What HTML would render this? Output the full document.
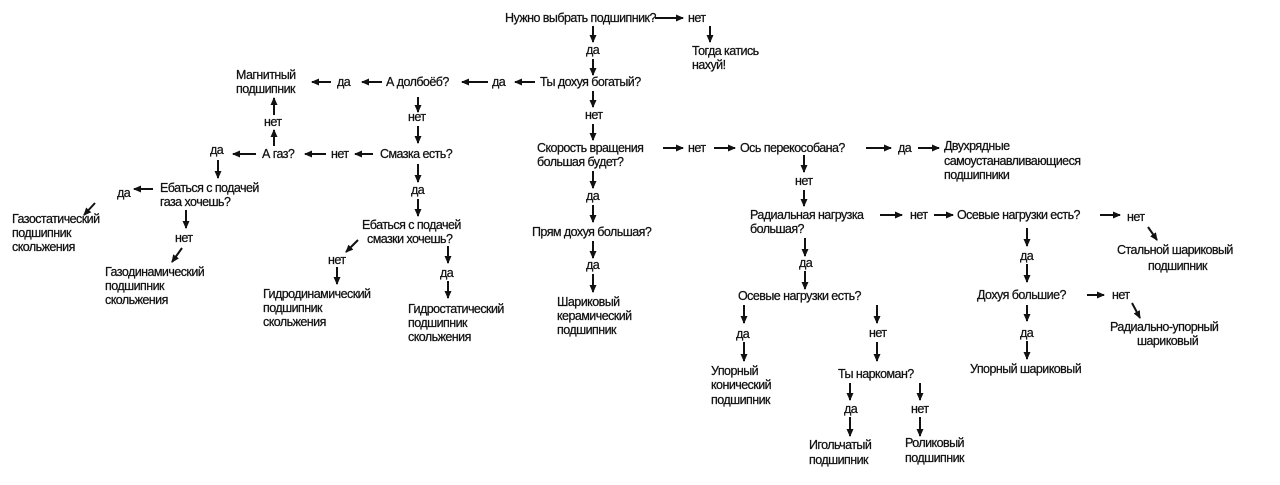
<!DOCTYPE html>
<html><head><meta charset="utf-8"><style>
html,body{margin:0;padding:0;background:#fff;}
svg{display:block;}
text{font-family:"Liberation Sans",Arial,sans-serif;font-size:12.5px;letter-spacing:-0.55px;fill:#111;stroke:#111;stroke-width:0.25px;}
line{stroke:#111;stroke-width:2;marker-end:url(#a);}
</style></head><body>
<svg width="1280" height="485" viewBox="0 0 1280 485" xmlns="http://www.w3.org/2000/svg">
<defs><marker id="a" markerWidth="8" markerHeight="7" refX="7" refY="3.5" orient="auto" markerUnits="userSpaceOnUse"><path d="M0,0 L8,3.5 L0,7 z" fill="#111"/></marker></defs>

<!-- top -->
<text x="505" y="22">Нужно выбрать подшипник?</text>
<line x1="655" y1="18" x2="683" y2="18"/>
<text x="688" y="22">нет</text>
<line x1="710" y1="26" x2="710" y2="42"/>
<text x="692" y="55">Тогда катись</text>
<text x="692" y="69">нахуй!</text>
<line x1="593" y1="26" x2="593" y2="42"/>
<text x="586" y="54">да</text>
<line x1="593" y1="59" x2="593" y2="75"/>
<text x="540" y="86">Ты дохуя богатый?</text>

<!-- left top chain -->
<line x1="535" y1="82" x2="515" y2="82"/>
<text x="492" y="86">да</text>
<line x1="488" y1="82" x2="462" y2="82"/>
<text x="386" y="86">А долбоёб?</text>
<line x1="382" y1="82" x2="362" y2="82"/>
<text x="337" y="86">да</text>
<line x1="331" y1="82" x2="312" y2="82"/>
<text x="236" y="79">Магнитный</text>
<text x="236" y="93">подшипник</text>

<line x1="418" y1="97" x2="418" y2="112"/>
<text x="408" y="121">нет</text>
<line x1="418" y1="126" x2="418" y2="143"/>
<text x="380" y="158">Смазка есть?</text>
<line x1="373" y1="154" x2="355" y2="154"/>
<text x="331" y="158">нет</text>
<line x1="326" y1="154" x2="305" y2="154"/>
<text x="262" y="158">А газ?</text>
<line x1="256" y1="154" x2="233" y2="154"/>
<text x="210" y="154">да</text>
<line x1="274" y1="146" x2="274" y2="130"/>
<text x="264" y="126">нет</text>
<line x1="274" y1="115" x2="274" y2="98"/>

<line x1="218" y1="160" x2="218" y2="178"/>
<text x="160" y="192">Ебаться с подачей</text>
<text x="160" y="206">газа хочешь?</text>
<line x1="153" y1="189" x2="134" y2="189"/>
<text x="117" y="197">да</text>
<line x1="95" y1="203" x2="84" y2="215"/>
<text x="12" y="223">Газостатический</text>
<text x="12" y="237">подшипник</text>
<text x="12" y="251">скольжения</text>
<line x1="186" y1="210" x2="186" y2="228"/>
<text x="175" y="242">нет</text>
<line x1="182" y1="248" x2="172" y2="262"/>
<text x="105" y="276">Газодинамический</text>
<text x="105" y="290">подшипник</text>
<text x="105" y="304">скольжения</text>

<line x1="418" y1="164" x2="418" y2="182"/>
<text x="411" y="194">да</text>
<line x1="418" y1="199" x2="418" y2="216"/>
<text x="362" y="229">Ебаться с подачей</text>
<text x="367" y="243">смазки хочешь?</text>
<line x1="358" y1="240" x2="346" y2="252"/>
<text x="328" y="264">нет</text>
<line x1="337" y1="267" x2="337" y2="284"/>
<text x="263" y="298">Гидродинамический</text>
<text x="263" y="312">подшипник</text>
<text x="263" y="326">скольжения</text>
<line x1="448" y1="246" x2="448" y2="263"/>
<text x="440" y="277">да</text>
<line x1="448" y1="281" x2="448" y2="298"/>
<text x="408" y="313">Гидростатический</text>
<text x="408" y="327">подшипник</text>
<text x="408" y="341">скольжения</text>

<!-- center -->
<line x1="593" y1="91" x2="593" y2="107"/>
<text x="585" y="119">нет</text>
<line x1="593" y1="124" x2="593" y2="140"/>
<text x="537" y="152">Скорость вращения</text>
<text x="537" y="166">большая будет?</text>
<line x1="593" y1="171" x2="593" y2="188"/>
<text x="586" y="200">да</text>
<line x1="593" y1="205" x2="593" y2="222"/>
<text x="532" y="236">Прям дохуя большая?</text>
<line x1="593" y1="241" x2="593" y2="258"/>
<text x="586" y="269">да</text>
<line x1="593" y1="274" x2="593" y2="292"/>
<text x="557" y="306">Шариковый</text>
<text x="557" y="320">керамический</text>
<text x="557" y="334">подшипник</text>

<!-- right -->
<line x1="663" y1="148" x2="683" y2="148"/>
<text x="688" y="152">нет</text>
<line x1="714" y1="148" x2="735" y2="148"/>
<text x="740" y="152">Ось перекособана?</text>
<line x1="866" y1="148" x2="891" y2="148"/>
<text x="898" y="152">да</text>
<line x1="918" y1="148" x2="939" y2="148"/>
<text x="944" y="150">Двухрядные</text>
<text x="944" y="165">самоустанавливающиеся</text>
<text x="944" y="179">подшипники</text>
<line x1="804" y1="155" x2="804" y2="172"/>
<text x="795" y="185">нет</text>
<line x1="804" y1="190" x2="804" y2="206"/>
<text x="750" y="219">Радиальная нагрузка</text>
<text x="750" y="233">большая?</text>
<line x1="880" y1="215" x2="902" y2="215"/>
<text x="910" y="219">нет</text>
<line x1="934" y1="215" x2="953" y2="215"/>
<text x="957" y="219">Осевые нагрузки есть?</text>
<line x1="1100" y1="215" x2="1120" y2="215"/>
<text x="1127" y="221">нет</text>
<line x1="1148" y1="227" x2="1157" y2="240"/>
<text x="1117" y="254">Стальной шариковый</text>
<text x="1148" y="270">подшипник</text>
<line x1="1027" y1="228" x2="1027" y2="246"/>
<text x="1020" y="260">да</text>
<line x1="1027" y1="264" x2="1027" y2="282"/>
<text x="977" y="299">Дохуя большие?</text>
<line x1="1087" y1="295" x2="1104" y2="295"/>
<text x="1112" y="299">нет</text>
<line x1="1132" y1="303" x2="1140" y2="318"/>
<text x="1110" y="331">Радиально-упорный</text>
<text x="1137" y="345">шариковый</text>
<line x1="1027" y1="305" x2="1027" y2="321"/>
<text x="1020" y="337">да</text>
<line x1="1027" y1="341" x2="1027" y2="359"/>
<text x="970" y="373">Упорный шариковый</text>

<line x1="805" y1="238" x2="805" y2="256"/>
<text x="799" y="267">да</text>
<line x1="805" y1="271" x2="805" y2="289"/>
<text x="738" y="300">Осевые нагрузки есть?</text>
<line x1="744" y1="305" x2="744" y2="323"/>
<line x1="877" y1="305" x2="877" y2="323"/>
<text x="736" y="338">да</text>
<text x="869" y="337">нет</text>
<line x1="744" y1="342" x2="744" y2="361"/>
<line x1="877" y1="342" x2="877" y2="361"/>
<text x="711" y="375">Упорный</text>
<text x="711" y="389">конический</text>
<text x="711" y="404">подшипник</text>
<text x="838" y="378">Ты наркоман?</text>
<line x1="850" y1="383" x2="850" y2="400"/>
<line x1="920" y1="383" x2="920" y2="400"/>
<text x="844" y="413">да</text>
<text x="911" y="413">нет</text>
<line x1="850" y1="417" x2="850" y2="436"/>
<line x1="920" y1="417" x2="920" y2="436"/>
<text x="809" y="449">Игольчатый</text>
<text x="809" y="464">подшипник</text>
<text x="905" y="447">Роликовый</text>
<text x="905" y="462">подшипник</text>
</svg>
</body></html>
